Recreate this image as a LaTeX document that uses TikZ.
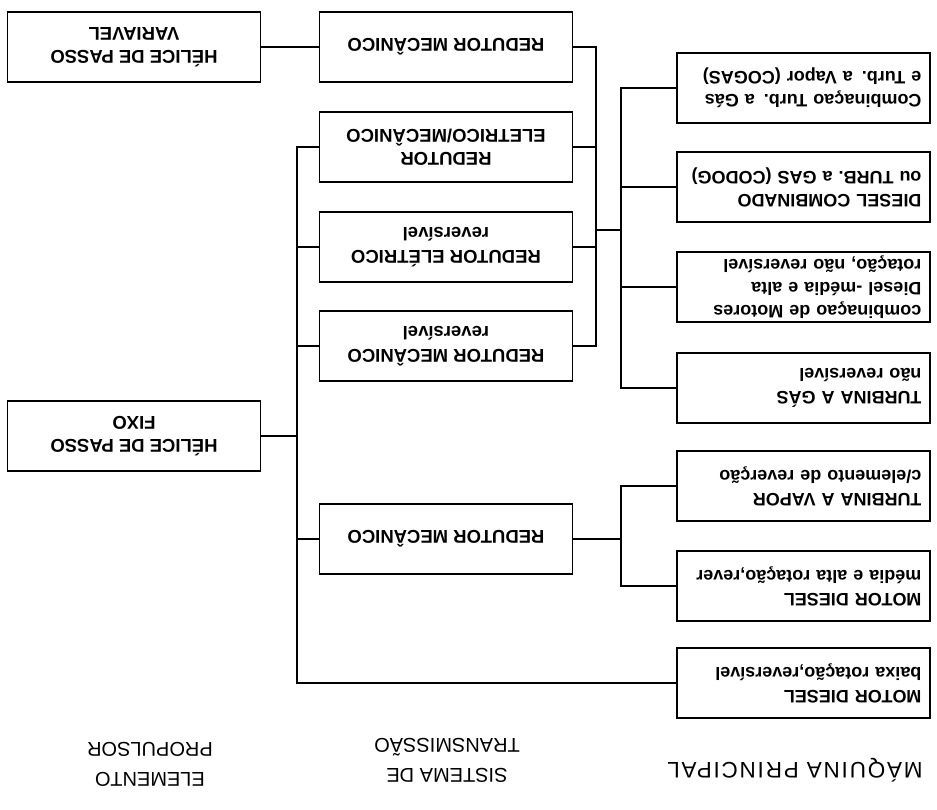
\documentclass[tikz,border=0pt]{standalone}
\usepackage{fontspec}
\setmainfont{Liberation Sans}
\newfontfamily\hdwide[LetterSpace=8]{Liberation Sans}
\usepackage{tikz}

\begin{document}
\begin{tikzpicture}[
  x=1pt, y=-1pt, rotate=180, transform shape,
  bx/.style={draw, rectangle, line width=1.4pt, minimum width=253pt, minimum height=70pt,
             inner sep=0pt, align=center, font=\fontsize{18.5}{23}\selectfont\bfseries},
  eng/.style={bx, align=left, text width=236pt, font=\fontsize{18}{23}\selectfont\bfseries},
  hd/.style={font=\fontsize{20}{30}\selectfont, align=center},
  ln/.style={line width=1.2pt}
]
\useasboundingbox (0,0) rectangle (937,810);

% ─── column headers ───
\node[hd, font=\hdwide\fontsize{22.5}{30}\selectfont] (hmaq) at (142,40) {MÁQUINA PRINCIPAL};
\node[hd] (hsis) at (490,50) {SISTEMA DE\\TRANSMISSÃO};
\node[hd] (hele) at (787,46) {ELEMENTO\\PROPULSOR};

% ─── Máquina principal ───
\node[eng] (mdb)   at (133.5,127) {MOTOR DIESEL\\baixa rotação,reversível};
\node[eng] (mdm)   at (133.5,224) {MOTOR DIESEL\\média e alta rotação,rever};
\node[eng] (tvap)  at (133.5,324) {TURBINA A VAPOR\\c/elemento de reverção};
\node[eng] (tgas)  at (133.5,422) {TURBINA A GÁS\\não reversível};
\node[eng] (comb)  at (133.5,523) {combinaçao de Motores\\Diesel -média e alta\\rotação, não reversível};
\node[eng] (codog) at (133.5,623) {DIESEL COMBINADO\\ou TURB. a GAS (CODOG)};
\node[eng] (cogas) at (133.5,722) {Combinaçao Turb. a Gás\\e Turb. a Vapor (COGAS)};

% ─── Sistema de transmissão ───
\node[bx] (rm2) at (491,271) {REDUTOR MECÂNICO};
\node[bx] (rmr) at (491,464) {REDUTOR MECÂNICO\\reversível};
\node[bx] (rel) at (491,563) {REDUTOR ELÉTRICO\\reversível};
\node[bx] (rem) at (491,663) {REDUTOR\\ELETRICO/MECÂNICO};
\node[bx] (rm1) at (491,763) {REDUTOR MECÂNICO};

% ─── Elemento propulsor ───
\node[bx] (hpf) at (803,374) {HÉLICE DE PASSO\\FIXO};
\node[bx] (hvp) at (803,763) {HÉLICE DE PASSO\\VARIAVEL};

% bus junctions
\coordinate (jA) at (316,580);
\coordinate (jB) at (341,580);
\coordinate (jC) at (316,271);
\coordinate (jD) at (640,374);

% ─── engines -> reducers (upper group) ───
\draw[ln] (tgas.east) -| (jA);
\draw[ln] (comb.east) -| (jA);
\draw[ln] (codog.east) -| (jA);
\draw[ln] (cogas.east) -| (jA);
\draw[ln] (jA) -- (jB);
\draw[ln] (rmr.west) -| (jB);
\draw[ln] (rel.west) -| (jB);
\draw[ln] (rem.west) -| (jB);
\draw[ln] (rm1.west) -| (jB);

% ─── engines -> redutor mecânico (lower group) ───
\draw[ln] (mdm.east) -| (jC);
\draw[ln] (tvap.east) -| (jC);
\draw[ln] (jC) -- (rm2.west);

% ─── to the propellers ───
\draw[ln] (mdb.east) -| (jD);
\draw[ln] (rm2.east) -| (jD);
\draw[ln] (rmr.east) -| (jD);
\draw[ln] (rel.east) -| (jD);
\draw[ln] (rem.east) -| (jD);
\draw[ln] (jD) -- (hpf.west);
\draw[ln] (rm1.east) -- (hvp.west);

\end{tikzpicture}
\end{document}
